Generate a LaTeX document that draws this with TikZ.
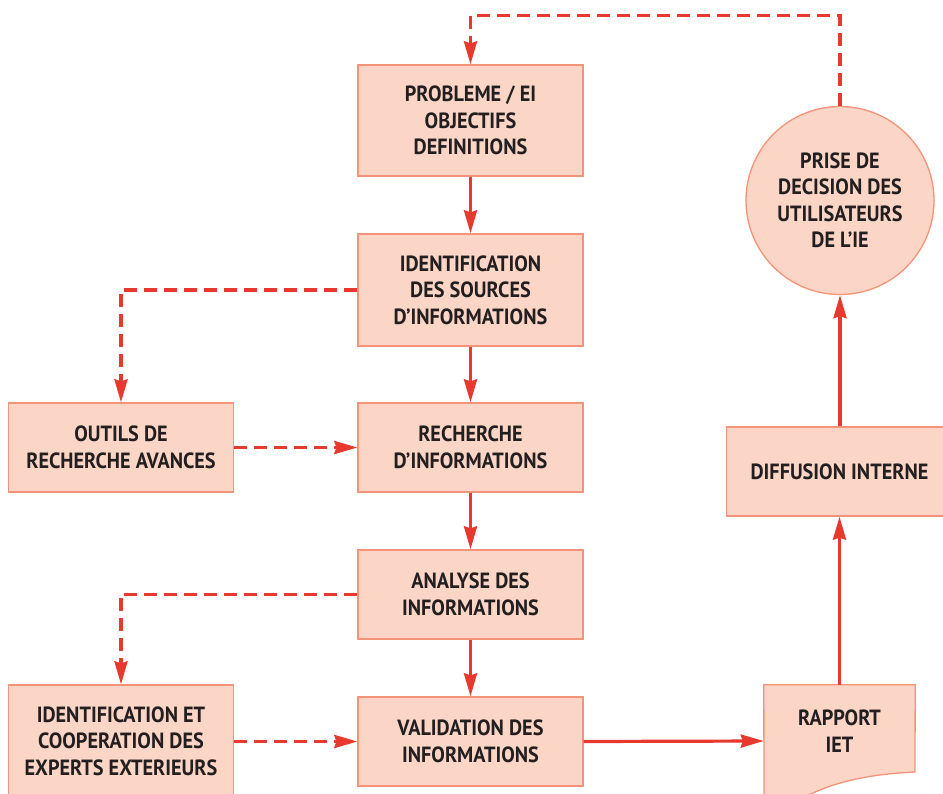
\documentclass[tikz,border=0pt]{standalone}
\usepackage{fontspec}
\usetikzlibrary{arrows.meta}
\newfontfamily\boxfont[FakeStretch=0.92]{PT Sans}
\definecolor{boxfill}{HTML}{FBD5C5}
\definecolor{boxline}{HTML}{F4937A}
\definecolor{flow}{HTML}{E8392F}
\definecolor{ink}{HTML}{231F20}
\tikzset{
  stepbox/.style={rectangle, draw=boxline, fill=boxfill, line width=1.3pt,
    minimum width=225pt, minimum height=89pt, align=center, text=ink,
    font=\boxfont\bfseries\fontsize{22}{26.5}\selectfont, inner sep=0pt},
  roundbox/.style={stepbox, circle, minimum size=188pt},
  plain/.style={draw=none, fill=none, align=center, text=ink,
    font=\boxfont\bfseries\fontsize{22}{26.5}\selectfont, inner sep=0pt},
  flowline/.style={draw=flow, line width=3.2pt,
    -{Stealth[length=23pt,width=13pt,inset=2pt]}},
  loopline/.style={flowline, dash pattern=on 13pt off 7pt}
}
\begin{document}
\begin{tikzpicture}[x=1pt,y=-1pt]
\useasboundingbox (0,0) rectangle (943,793);
\clip (0,0) rectangle (943,793);

% main column
\node[stepbox, minimum height=111pt] (prob) at (470.5,120.5) {PROBLEME / EI\\OBJECTIFS\\DEFINITIONS};
\node[stepbox, minimum height=112pt] (ident) at (470.5,290) {IDENTIFICATION\\DES SOURCES\\D’INFORMATIONS};
\node[stepbox] (rech) at (470.5,447.5) {RECHERCHE\\D’INFORMATIONS};
\node[stepbox] (anal) at (470.5,594.5) {ANALYSE DES\\INFORMATIONS};
\node[stepbox] (valid) at (470.5,741.5) {VALIDATION DES\\INFORMATIONS};

% side inputs
\node[stepbox] (outils) at (121,447.5) {OUTILS DE\\RECHERCHE AVANCES};
\node[stepbox, minimum height=112pt] (experts) at (121,741) {IDENTIFICATION ET\\COOPERATION DES\\EXPERTS EXTERIEURS};

% report (document shape) and dissemination
\node[plain, minimum width=151pt, minimum height=112pt] (rap) at (839.5,741) {};
\fill[boxfill] (rap.north west) -- (rap.north east) -- (915,772)
  .. controls (870,774) and (830,782) .. (800,800) -- (764,800) -- cycle;
\draw[boxline, line width=1.3pt] (764,800) -- (rap.north west) -- (rap.north east) -- (915,772)
  .. controls (870,774) and (830,782) .. (800,800);
\node[plain] (raptext) at (839.5,731) {RAPPORT\\IET};

\node[stepbox, minimum width=226pt] (diff) at (839.5,471.5) {DIFFUSION INTERNE};
\node[roundbox] (decis) at (840,200.5) {PRISE DE\\DECISION DES\\UTILISATEURS\\DE L’IE};

% solid flow
\draw[flowline] (prob) -- (ident);
\draw[flowline] (ident) -- (rech);
\draw[flowline] (rech) -- (anal);
\draw[flowline] (anal) -- (valid);
\draw[flowline] (valid.east) -- (rap.west);
\draw[flowline] (rap.north) -- (diff.south -| rap.north);
\draw[flowline] (diff.north -| decis.south) -- (decis.south);

% dashed links
\draw[loopline] (ident.west) -| (outils.north);
\draw[loopline] (outils.east) -- (rech.west);
\draw[loopline] (anal.west) -| (experts.north);
\draw[loopline] (experts.east |- valid.west) -- (valid.west);
\draw[loopline] (decis.north) -- ++(0,-90) -| (prob.north);
\end{tikzpicture}
\end{document}
